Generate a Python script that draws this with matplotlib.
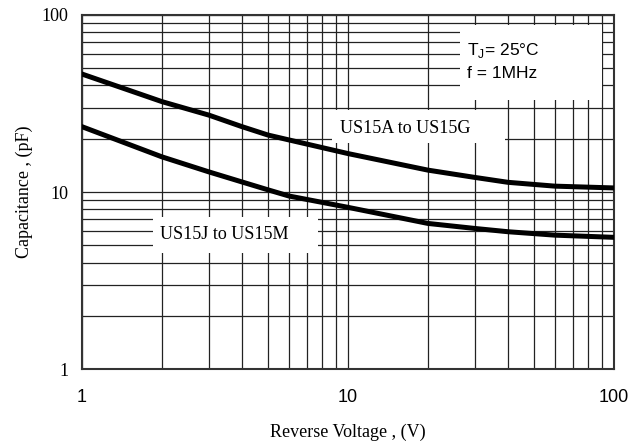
import matplotlib
matplotlib.use("Agg")
import matplotlib.pyplot as plt
from matplotlib.patches import Rectangle
from matplotlib.ticker import NullFormatter

# values
volts = [1, 2, 3, 4, 5, 6, 10, 20, 30, 40, 60, 100]
cap_a_g = [46.4, 32.4, 27.2, 23.4, 21.0, 19.7, 16.5, 13.3, 12.1, 11.35, 10.8, 10.55]
cap_j_m = [23.4, 15.8, 13.0, 11.4, 10.3, 9.5, 8.2, 6.65, 6.23, 5.97, 5.71, 5.55]

x_ticks = [1, 10, 100]
y_ticks = [1, 10, 100]

fig = plt.figure(figsize=(6.38, 4.41), dpi=100)
ax = fig.add_axes([0.1285, 0.163, 0.8335, 0.803])

ax.set_xscale("log")
ax.set_yscale("log")
ax.set_xlim(1, 100)
ax.set_ylim(1, 100)

ax.grid(True, which="both", color="#222222", linewidth=0.9)
ax.set_axisbelow(True)

ax.plot(volts, cap_a_g, color="black", linewidth=3.6, solid_joinstyle="round", zorder=3)
ax.plot(volts, cap_j_m, color="black", linewidth=3.6, solid_joinstyle="round", zorder=3)

ax.set_xticks(x_ticks)
ax.set_xticklabels([str(v) for v in x_ticks], family="Liberation Sans", fontsize=13)
ax.set_yticks(y_ticks)
ax.set_yticklabels([str(v) for v in y_ticks], family="Liberation Serif", fontsize=13)
ax.xaxis.set_minor_formatter(NullFormatter())
ax.yaxis.set_minor_formatter(NullFormatter())
ax.tick_params(which="both", length=0)
ax.tick_params(axis="x", pad=14)
ax.tick_params(axis="y", pad=10)

for s in ["top", "bottom", "left", "right"]:
    ax.spines[s].set_color("#333333")
    ax.spines[s].set_linewidth(1.5)

ax.set_xlabel("Reverse Voltage , (V)", family="Liberation Serif", fontsize=13, labelpad=13)
ax.set_ylabel("Capacitance , (pF)", family="Liberation Serif", fontsize=13, labelpad=6)

# white boxes that blank the grid behind the labels
for (bx, by, bw, bh) in [(0.470, 0.638, 0.325, 0.094),
                         (0.1335, 0.328, 0.310, 0.101),
                         (0.711, 0.760, 0.266, 0.212)]:
    ax.add_patch(Rectangle((bx, by), bw, bh, transform=ax.transAxes,
                           facecolor="white", edgecolor="none", zorder=2))

ax.text(0.608, 0.679, "US15A to US15G", transform=ax.transAxes, ha="center", va="center",
        family="Liberation Serif", fontsize=13, zorder=4)
ax.text(0.267, 0.381, "US15J to US15M", transform=ax.transAxes, ha="center", va="center",
        family="Liberation Serif", fontsize=13, zorder=4)
ax.text(0.724, 0.901, "T$_\\mathregular{J}$= 25\u00b0C", transform=ax.transAxes, ha="left", va="center",
        family="Liberation Sans", fontsize=12.5, zorder=4)
ax.text(0.724, 0.836, "f = 1MHz", transform=ax.transAxes, ha="left", va="center",
        family="Liberation Sans", fontsize=12.5, zorder=4)

plt.savefig("out.png", dpi=100)
plt.close()
